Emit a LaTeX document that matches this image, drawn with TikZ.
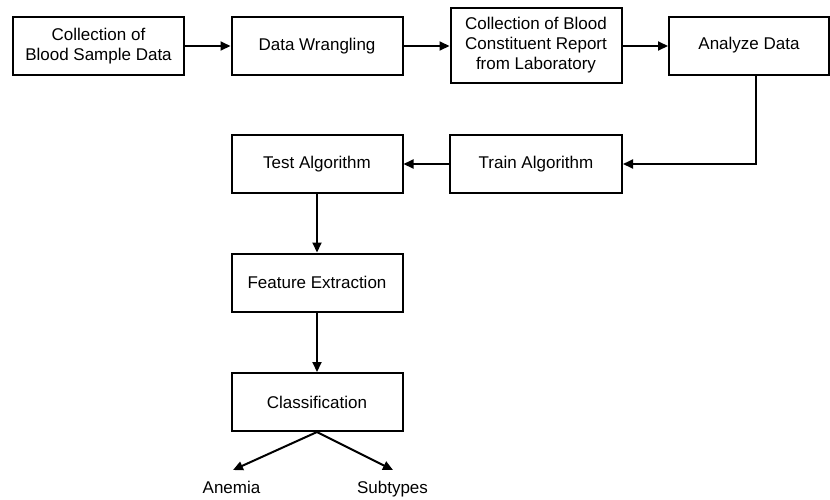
\documentclass[tikz,border=0pt]{standalone}
\usepackage{fontspec}
\setmainfont{Liberation Sans}
\usetikzlibrary{arrows.meta}
\begin{document}
\begin{tikzpicture}[x=1pt,y=-1pt,
  stepbox/.style={draw=black, line width=2pt, rectangle, align=center,
    minimum width=171pt, minimum height=58pt, inner sep=0pt,
    font=\fontsize{17}{20}\selectfont},
  lbl/.style={font=\fontsize{17}{20}\selectfont, inner sep=0pt, anchor=base},
  conn/.style={line width=2pt, -{Triangle[length=10pt,width=9pt]}}]
\useasboundingbox (0,0) rectangle (830,499);
\node[stepbox] (collect) at (98.5,46) {Collection of\\Blood Sample Data};
\node[stepbox] (wrangle) at (317,46) {Data Wrangling};
\node[stepbox, minimum height=75pt] (report) at (536,45.5) {Collection of Blood\\Constituent Report\\from Laboratory};
\node[stepbox, minimum width=160pt] (analyze) at (749,45.5) {Analyze Data};
\node[stepbox, minimum width=172pt] (train) at (536,164) {Train Algorithm};
\node[stepbox] (test) at (317,164) {Test Algorithm};
\node[stepbox] (feature) at (317,282.5) {Feature Extraction};
\node[stepbox] (classify) at (317,402) {Classification};
\node[lbl] (anemia) at (231.5,493) {Anemia};
\node[lbl] (subtypes) at (392.5,493) {Subtypes};
\coordinate (anemiatip) at (233,470);
\coordinate (subtypestip) at (393,470);
\coordinate (turn) at (756,164);

\draw[conn] (collect.east) -- (wrangle.west);
\draw[conn] (wrangle.east) -- (report.west |- wrangle.east);
\draw[conn] (report.east |- collect.east) -- (analyze.west |- collect.east);
\draw[conn] (analyze.south -| turn) -- (turn) -- (train.east);
\draw[conn] (train.west) -- (test.east);
\draw[conn] (test.south) -- (feature.north);
\draw[conn] (feature.south) -- (classify.north);
\draw[conn] (classify.south) -- (anemiatip);
\draw[conn] (classify.south) -- (subtypestip);
\end{tikzpicture}
\end{document}
